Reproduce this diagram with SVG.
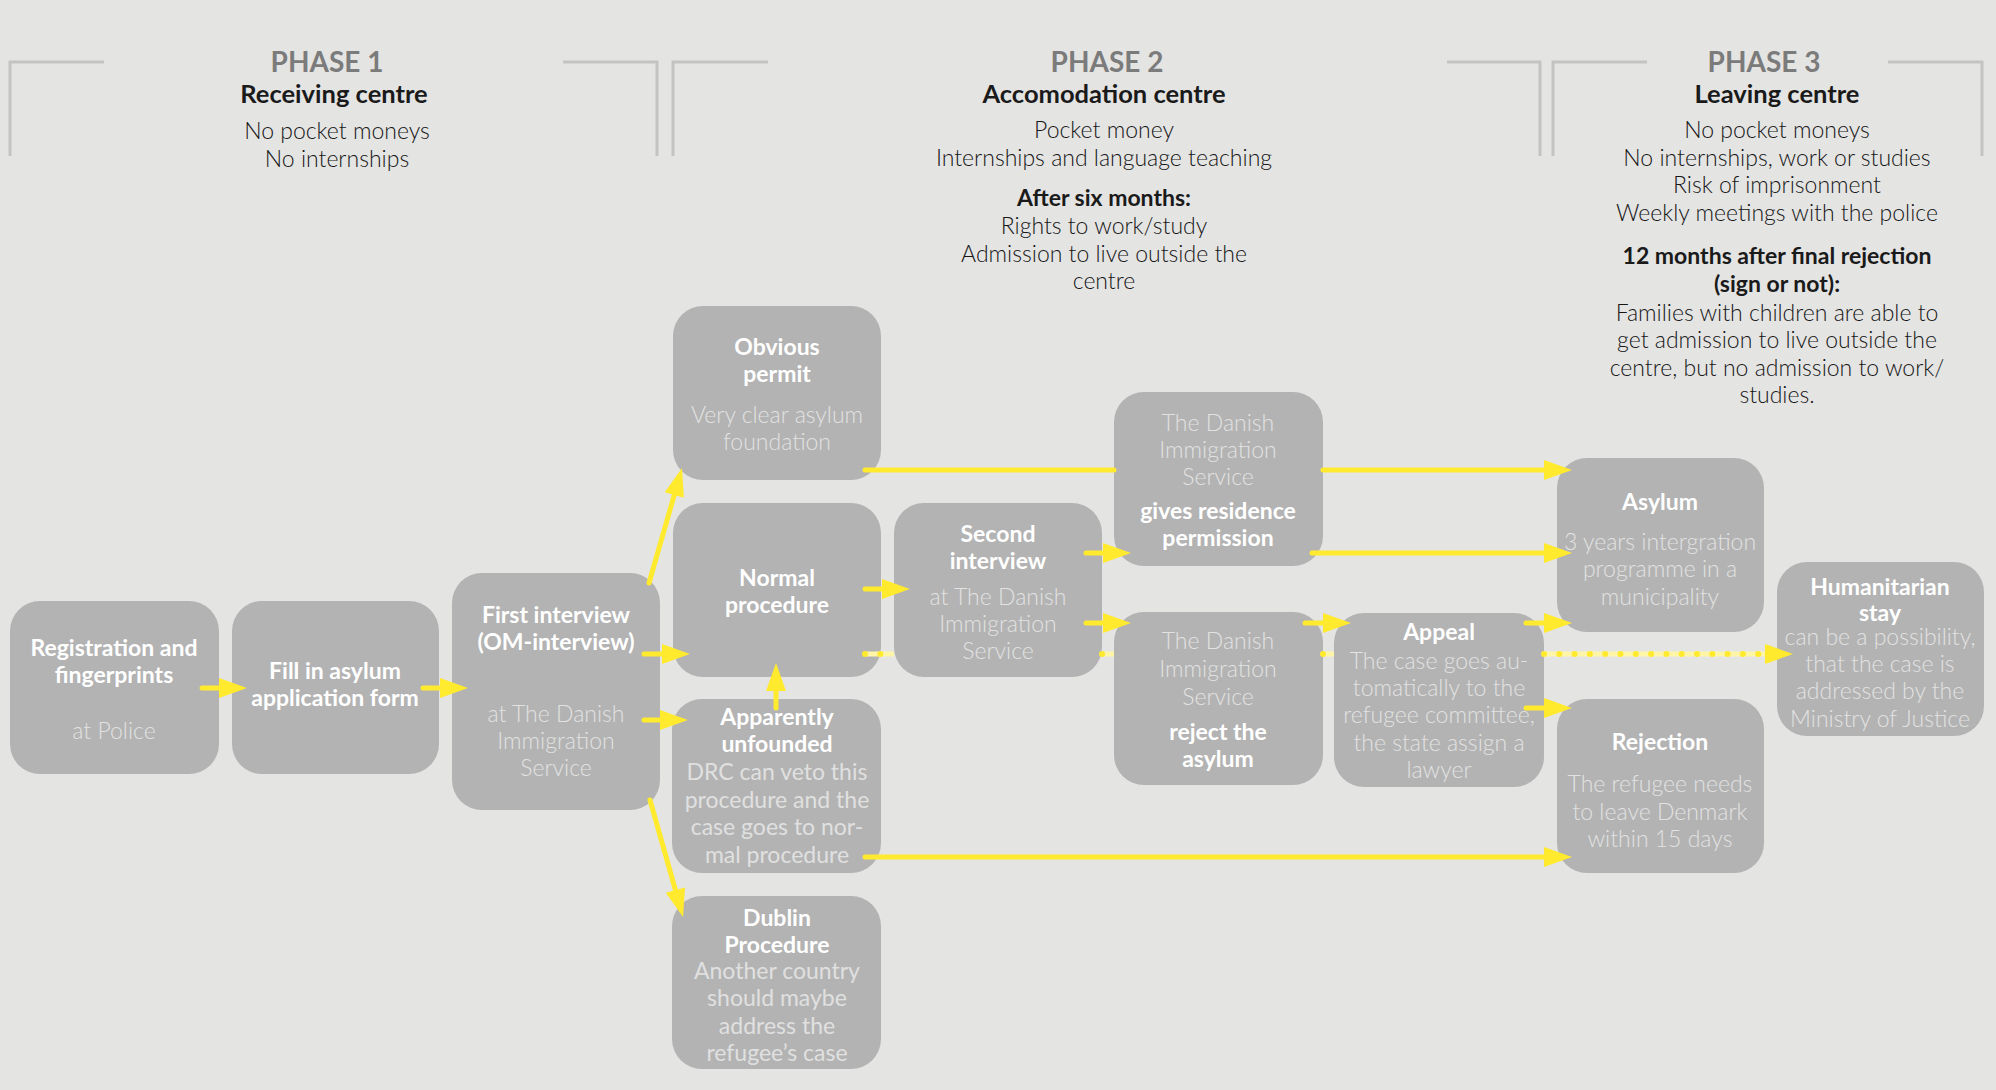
<svg xmlns="http://www.w3.org/2000/svg" width="1996" height="1090" viewBox="0 0 1996 1090">
<defs>
<style>
.bg{fill:#e4e4e3}
.br{fill:none;stroke:#c3c3c3;stroke-width:3}
.ph{font-family:Lato,"Liberation Sans",sans-serif;font-weight:700;font-size:28px;fill:#7b7b7b;text-anchor:middle}
.ht{font-family:Lato,"Liberation Sans",sans-serif;font-weight:700;font-size:25.5px;fill:#1a1a1a;text-anchor:middle}
.hb{font-family:Lato,"Liberation Sans",sans-serif;font-weight:700;font-size:23px;fill:#1a1a1a;text-anchor:middle}
.hx{font-family:Lato,"Liberation Sans",sans-serif;font-weight:300;font-size:23px;fill:#161616;text-anchor:middle}
.nd{fill:#b3b3b3}
.nt{font-family:Lato,"Liberation Sans",sans-serif;font-weight:700;font-size:23px;fill:#ffffff;text-anchor:middle}
.nl{font-family:Lato,"Liberation Sans",sans-serif;font-weight:300;font-size:23px;fill:#e2e2e2;text-anchor:middle}
.nr{font-family:Lato,"Liberation Sans",sans-serif;font-weight:400;font-size:23px;fill:#e0e0e0;text-anchor:middle}
.cn{fill:none;stroke:#ffea2e;stroke-width:5;stroke-linecap:round;marker-end:url(#arrow)}
.band{fill:none;stroke:#fff5a6;stroke-width:5}
.dots{fill:none;stroke:#ffea2e;stroke-width:6;stroke-linecap:round;stroke-dasharray:0 15.3;marker-end:url(#arrow)}
</style>
<marker id="arrow" markerUnits="userSpaceOnUse" markerWidth="30" markerHeight="22" refX="8" refY="10" orient="auto" viewBox="0 0 30 20" overflow="visible">
<path d="M0,0 L28,10 L0,20 Z" fill="#ffea2e"/>
</marker>
</defs>
<rect class="bg" x="0" y="0" width="1996" height="1090"/>

<g id="phase1">
<polyline class="br" points="104,62 10,62 10,156"/>
<polyline class="br" points="563,62 657,62 657,156"/>
<text class="ph" x="327" y="72">PHASE 1</text>
<text class="ht" x="334" y="103">Receiving centre</text>
<text class="hx" x="337" y="139">No pocket moneys</text>
<text class="hx" x="337" y="167">No internships</text>
</g>

<g id="phase2">
<polyline class="br" points="768,62 673,62 673,156"/>
<polyline class="br" points="1447,62 1540,62 1540,156"/>
<text class="ph" x="1107" y="72">PHASE 2</text>
<text class="ht" x="1104" y="103">Accomodation centre</text>
<text class="hx" x="1104" y="138">Pocket money</text>
<text class="hx" x="1104" y="166">Internships and language teaching</text>
<text class="hb" x="1104" y="206">After six months:</text>
<text class="hx" x="1104" y="234">Rights to work/study</text>
<text class="hx" x="1104" y="262">Admission to live outside the</text>
<text class="hx" x="1104" y="289">centre</text>
</g>

<g id="phase3">
<polyline class="br" points="1647,62 1553,62 1553,156"/>
<polyline class="br" points="1888,62 1982,62 1982,156"/>
<text class="ph" x="1764" y="72">PHASE 3</text>
<text class="ht" x="1777" y="103">Leaving centre</text>
<text class="hx" x="1777" y="138">No pocket moneys</text>
<text class="hx" x="1777" y="166">No internships, work or studies</text>
<text class="hx" x="1777" y="193">Risk of imprisonment</text>
<text class="hx" x="1777" y="221">Weekly meetings with the police</text>
<text class="hb" x="1777" y="264">12 months after final rejection</text>
<text class="hb" x="1777" y="292">(sign or not):</text>
<text class="hx" x="1777" y="321">Families with children are able to</text>
<text class="hx" x="1777" y="348">get admission to live outside the</text>
<text class="hx" x="1777" y="376">centre, but no admission to work/</text>
<text class="hx" x="1777" y="403">studies.</text>
</g>

<g id="registration">
<rect class="nd" x="10" y="601" width="209" height="173" rx="30"/>
<text class="nt" x="114" y="656">Registration and</text>
<text class="nt" x="114" y="683">fingerprints</text>
<text class="nl" x="114" y="739">at Police</text>
</g>
<g id="fill-in">
<rect class="nd" x="232" y="601" width="207" height="173" rx="30"/>
<text class="nt" x="335" y="679">Fill in asylum</text>
<text class="nt" x="335" y="706">application form</text>
</g>
<g id="first-interview">
<rect class="nd" x="452" y="573" width="208" height="237" rx="30"/>
<text class="nt" x="556" y="623">First interview</text>
<text class="nt" x="556" y="650">(OM-interview)</text>
<text class="nl" x="556" y="722">at The Danish</text>
<text class="nl" x="556" y="749">Immigration</text>
<text class="nl" x="556" y="776">Service</text>
</g>
<g id="obvious-permit">
<rect class="nd" x="673" y="306" width="208" height="174" rx="30"/>
<text class="nt" x="777" y="355">Obvious</text>
<text class="nt" x="777" y="382">permit</text>
<text class="nl" x="777" y="423">Very clear asylum</text>
<text class="nl" x="777" y="450">foundation</text>
</g>
<g id="normal-procedure">
<rect class="nd" x="673" y="503" width="208" height="174" rx="30"/>
<text class="nt" x="777" y="586">Normal</text>
<text class="nt" x="777" y="613">procedure</text>
</g>
<g id="apparently-unfounded">
<rect class="nd" x="672" y="699" width="209" height="174" rx="30"/>
<text class="nt" x="777" y="725">Apparently</text>
<text class="nt" x="777" y="752">unfounded</text>
<text class="nr" x="777" y="780">DRC can veto this</text>
<text class="nr" x="777" y="808">procedure and the</text>
<text class="nr" x="777" y="835">case goes to nor-</text>
<text class="nr" x="777" y="863">mal procedure</text>
</g>
<g id="dublin-procedure">
<rect class="nd" x="672" y="896" width="209" height="173" rx="30"/>
<text class="nt" x="777" y="926">Dublin</text>
<text class="nt" x="777" y="953">Procedure</text>
<text class="nr" x="777" y="979">Another country</text>
<text class="nr" x="777" y="1006">should maybe</text>
<text class="nr" x="777" y="1034">address the</text>
<text class="nr" x="777" y="1061">refugee’s case</text>
</g>
<g id="second-interview">
<rect class="nd" x="894" y="503" width="208" height="174" rx="30"/>
<text class="nt" x="998" y="542">Second</text>
<text class="nt" x="998" y="569">interview</text>
<text class="nl" x="998" y="605">at The Danish</text>
<text class="nl" x="998" y="632">Immigration</text>
<text class="nl" x="998" y="659">Service</text>
</g>
<g id="gives-residence">
<rect class="nd" x="1114" y="392" width="209" height="174" rx="30"/>
<text class="nl" x="1218" y="431">The Danish</text>
<text class="nl" x="1218" y="458">Immigration</text>
<text class="nl" x="1218" y="485">Service</text>
<text class="nt" x="1218" y="519">gives residence</text>
<text class="nt" x="1218" y="546">permission</text>
</g>
<g id="reject-asylum">
<rect class="nd" x="1114" y="612" width="209" height="173" rx="30"/>
<text class="nl" x="1218" y="649">The Danish</text>
<text class="nl" x="1218" y="677">Immigration</text>
<text class="nl" x="1218" y="705">Service</text>
<text class="nt" x="1218" y="740">reject the</text>
<text class="nt" x="1218" y="767">asylum</text>
</g>
<g id="appeal">
<rect class="nd" x="1334" y="613" width="210" height="174" rx="30"/>
<text class="nt" x="1439" y="640">Appeal</text>
<text class="nl" x="1439" y="669">The case goes au-</text>
<text class="nl" x="1439" y="696">tomatically to the</text>
<text class="nl" x="1439" y="723">refugee committee,</text>
<text class="nl" x="1439" y="751">the state assign a</text>
<text class="nl" x="1439" y="778">lawyer</text>
</g>
<g id="asylum">
<rect class="nd" x="1557" y="458" width="207" height="174" rx="30"/>
<text class="nt" x="1660" y="510">Asylum</text>
<text class="nl" x="1660" y="550">3 years intergration</text>
<text class="nl" x="1660" y="577">programme in a</text>
<text class="nl" x="1660" y="605">municipality</text>
</g>
<g id="rejection">
<rect class="nd" x="1557" y="699" width="207" height="174" rx="30"/>
<text class="nt" x="1660" y="750">Rejection</text>
<text class="nl" x="1660" y="792">The refugee needs</text>
<text class="nl" x="1660" y="820">to leave Denmark</text>
<text class="nl" x="1660" y="847">within 15 days</text>
</g>
<g id="humanitarian-stay">
<rect class="nd" x="1777" y="562" width="207" height="174" rx="30"/>
<text class="nt" x="1880" y="595">Humanitarian</text>
<text class="nt" x="1880" y="621">stay</text>
<text class="nl" x="1880" y="645">can be a possibility,</text>
<text class="nl" x="1880" y="672">that the case is</text>
<text class="nl" x="1880" y="699">addressed by the</text>
<text class="nl" x="1880" y="727">Ministry of Justice</text>
</g>

<g id="connectors">
<path class="cn" d="M202,688 H227"/>
<path class="cn" d="M423,688 H448"/>
<path class="cn" d="M644,654 H670"/>
<path class="cn" d="M644,720 H668"/>
<path class="cn" d="M649,583 L676.5,487.2"/>
<path class="cn" d="M650,800 L677.6,897.8"/>
<path class="cn" d="M776,708 V683"/>
<path class="cn" d="M865,589 H890"/>
<path class="cn" d="M865,470 H1114 M1323,470 H1552"/>
<path class="cn" d="M1086,553 H1111"/>
<path class="cn" d="M1086,623 H1111"/>
<path class="cn" d="M1312,553 H1552"/>
<path class="cn" d="M1305,623 H1331"/>
<path class="cn" d="M1526,623 H1552"/>
<path class="cn" d="M1526,708 H1552"/>
<path class="cn" d="M865,857 H1552"/>
<g id="dotted-to-humanitarian">
<path class="band" d="M865,654 H894 M1102,654 H1114 M1323,654 H1334 M1544,654 H1773"/>
<path class="dots" d="M865,654 H894 M1102,654 H1114 M1323,654 H1334 M1544,654 H1773"/>
</g>
</g>
</svg>
